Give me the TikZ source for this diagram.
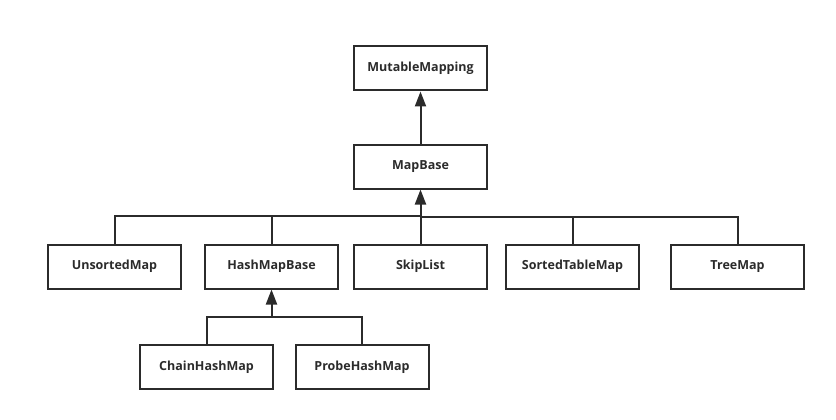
\documentclass[tikz,border=0pt]{standalone}
\usepackage{fontspec}
\setmainfont{Open Sans}
\usetikzlibrary{arrows.meta}
\definecolor{ln}{HTML}{2B2B2B}
\tikzset{
  cls/.style={draw=ln, line width=2pt, minimum width=133pt, minimum height=44pt, inner sep=0pt, font=\fontsize{12.5}{14}\selectfont\bfseries, text=ln, fill=white},
  conn/.style={draw=ln, line width=2pt},
  inh/.style={conn, -{Triangle[width=11pt,length=15pt]}}
}
\begin{document}
\begin{tikzpicture}[x=1pt,y=-1pt]
\useasboundingbox (0,0) rectangle (836,420);
\node[cls] (mm) at (420.5,68.5) {MutableMapping};
\node[cls] (mb) at (420.5,166.5) {MapBase};
\node[cls] (um) at (114.5,266.5) {UnsortedMap};
\node[cls] (hb) at (271.5,266.5) {HashMapBase};
\node[cls] (sl) at (420.5,266.5) {SkipList};
\node[cls] (st) at (572.5,266.5) {SortedTableMap};
\node[cls] (tm) at (737.5,266.5) {TreeMap};
\node[cls] (ch) at (206.5,367) {ChainHashMap};
\node[cls] (ph) at (362,367) {ProbeHashMap};
\coordinate (j1) at (420.5,215.5);
\coordinate (j2) at (420.5,216.5);
\coordinate (j3) at (271.5,317);
\draw[conn] (um.north) |- (j1);
\draw[conn] (hb.north) |- (j1);
\draw[conn] (sl.north) -- (j2);
\draw[conn] (st.north) |- (j2);
\draw[conn] (tm.north) |- (j2);
\draw[inh] (j1) -- (mb.south);
\draw[inh] (mb.north) -- (mm.south);
\draw[conn] (ch.north) |- (j3);
\draw[conn] (ph.north) |- (j3);
\draw[inh] (j3) -- (hb.south);
\end{tikzpicture}
\end{document}
